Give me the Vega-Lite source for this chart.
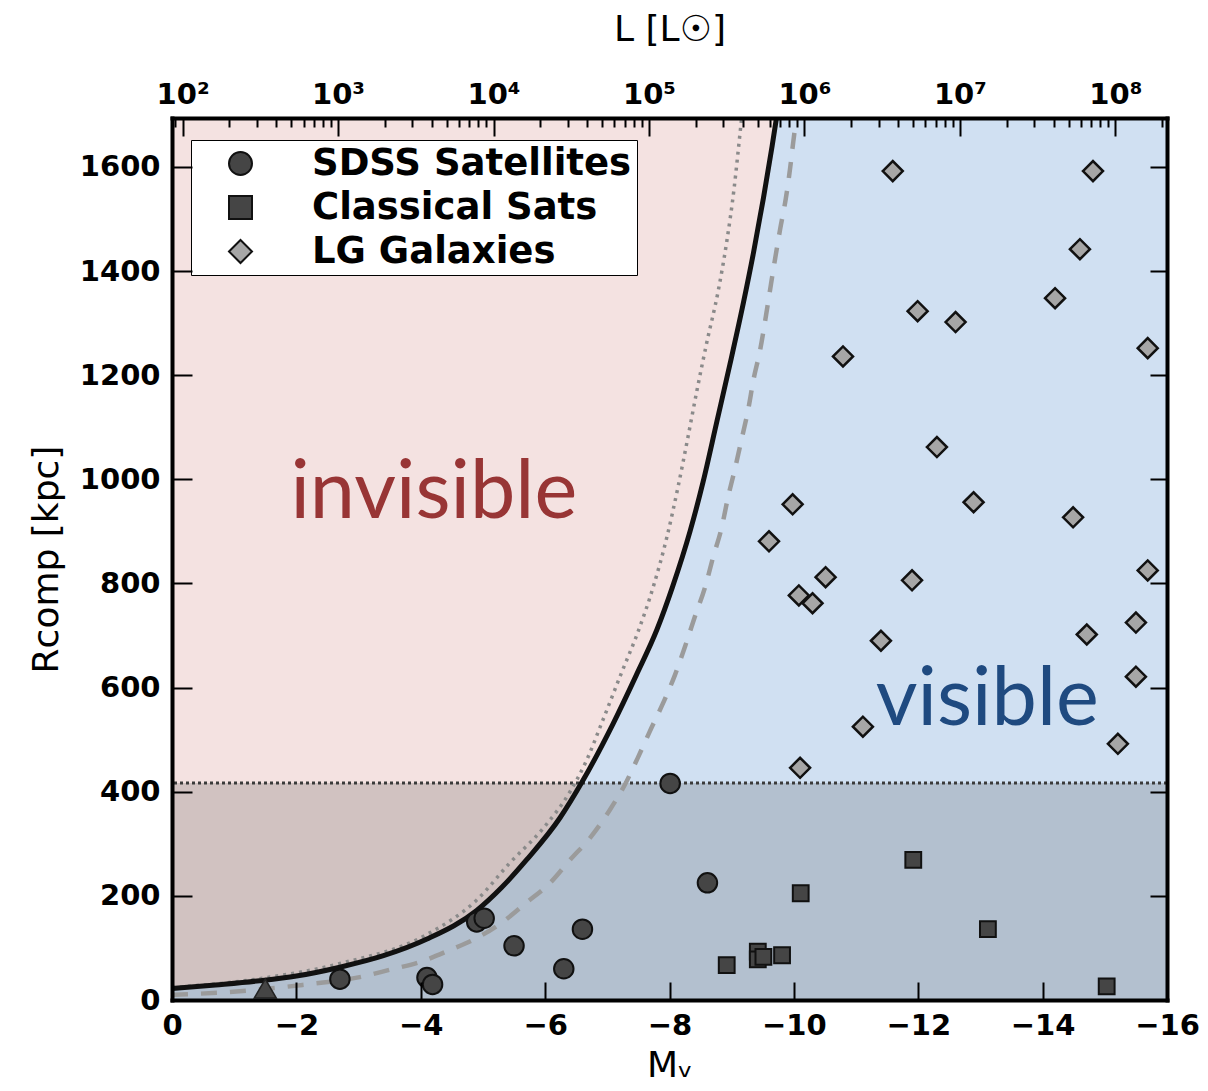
{
  "$schema": "https://vega.github.io/schema/vega-lite/v6.json",
  "width": 995,
  "height": 882,
  "autosize": {"type": "none"},
  "padding": {"left": 172, "top": 118, "right": 41, "bottom": 91},
  "background": "white",
  "config": {
    "font": "DejaVu Sans",
    "view": {"fill": "#d0e0f2", "stroke": null},
    "axis": {
      "grid": false, "zindex": 1, "ticks": true,
      "domainColor": "black", "domainWidth": 4, "domainCap": "square",
      "tickColor": "black", "tickWidth": 2,
      "labelColor": "black", "labelFont": "DejaVu Sans", "labelFontWeight": "bold", "labelFontSize": 29,
      "titleFont": "DejaVu Sans", "titleFontWeight": "normal", "titleFontSize": 36, "titleColor": "black",
      "labelFlush": false, "labelOverlap": false, "labelBound": false
    }
  },
  "datasets": {
    "curves": [
      {"curve": "solid", "M": 0, "R": 22}, {"curve": "solid", "M": -0.7, "R": 29}, {"curve": "solid", "M": -1.41, "R": 37},
      {"curve": "solid", "M": -2.0, "R": 46}, {"curve": "solid", "M": -2.7, "R": 63}, {"curve": "solid", "M": -3.4, "R": 85},
      {"curve": "solid", "M": -4.1, "R": 117}, {"curve": "solid", "M": -4.9, "R": 172}, {"curve": "solid", "M": -5.3, "R": 216},
      {"curve": "solid", "M": -5.7, "R": 269}, {"curve": "solid", "M": -6.24, "R": 350}, {"curve": "solid", "M": -6.6, "R": 420},
      {"curve": "solid", "M": -7.09, "R": 530}, {"curve": "solid", "M": -7.47, "R": 625}, {"curve": "solid", "M": -7.8, "R": 712},
      {"curve": "solid", "M": -8.05, "R": 794}, {"curve": "solid", "M": -8.33, "R": 900}, {"curve": "solid", "M": -8.54, "R": 995},
      {"curve": "solid", "M": -8.76, "R": 1110}, {"curve": "solid", "M": -8.97, "R": 1220}, {"curve": "solid", "M": -9.19, "R": 1340},
      {"curve": "solid", "M": -9.35, "R": 1435}, {"curve": "solid", "M": -9.51, "R": 1540}, {"curve": "solid", "M": -9.65, "R": 1640},
      {"curve": "solid", "M": -9.72, "R": 1694},
      {"curve": "dotted", "M": 0, "R": 24}, {"curve": "dotted", "M": -1.41, "R": 41}, {"curve": "dotted", "M": -2.7, "R": 70},
      {"curve": "dotted", "M": -4.1, "R": 126}, {"curve": "dotted", "M": -4.9, "R": 192}, {"curve": "dotted", "M": -5.43, "R": 263},
      {"curve": "dotted", "M": -5.97, "R": 330}, {"curve": "dotted", "M": -6.4, "R": 400}, {"curve": "dotted", "M": -6.65, "R": 456},
      {"curve": "dotted", "M": -6.93, "R": 538}, {"curve": "dotted", "M": -7.23, "R": 629}, {"curve": "dotted", "M": -7.49, "R": 706},
      {"curve": "dotted", "M": -7.74, "R": 794}, {"curve": "dotted", "M": -7.96, "R": 890}, {"curve": "dotted", "M": -8.14, "R": 987},
      {"curve": "dotted", "M": -8.3, "R": 1083}, {"curve": "dotted", "M": -8.44, "R": 1170}, {"curve": "dotted", "M": -8.6, "R": 1263},
      {"curve": "dotted", "M": -8.78, "R": 1360}, {"curve": "dotted", "M": -8.92, "R": 1456}, {"curve": "dotted", "M": -9.04, "R": 1560},
      {"curve": "dotted", "M": -9.13, "R": 1660}, {"curve": "dotted", "M": -9.16, "R": 1694},
      {"curve": "dashed", "M": 0, "R": 10}, {"curve": "dashed", "M": -0.88, "R": 15}, {"curve": "dashed", "M": -2.1, "R": 29},
      {"curve": "dashed", "M": -3.02, "R": 44}, {"curve": "dashed", "M": -3.5, "R": 58}, {"curve": "dashed", "M": -3.99, "R": 73},
      {"curve": "dashed", "M": -4.47, "R": 96}, {"curve": "dashed", "M": -4.9, "R": 119}, {"curve": "dashed", "M": -5.32, "R": 150},
      {"curve": "dashed", "M": -5.7, "R": 187}, {"curve": "dashed", "M": -6.08, "R": 225}, {"curve": "dashed", "M": -6.4, "R": 269},
      {"curve": "dashed", "M": -6.72, "R": 311}, {"curve": "dashed", "M": -7.04, "R": 365}, {"curve": "dashed", "M": -7.28, "R": 413},
      {"curve": "dashed", "M": -7.49, "R": 465}, {"curve": "dashed", "M": -7.68, "R": 515}, {"curve": "dashed", "M": -7.9, "R": 571},
      {"curve": "dashed", "M": -8.09, "R": 625}, {"curve": "dashed", "M": -8.25, "R": 679}, {"curve": "dashed", "M": -8.41, "R": 737},
      {"curve": "dashed", "M": -8.57, "R": 792}, {"curve": "dashed", "M": -8.7, "R": 850}, {"curve": "dashed", "M": -8.84, "R": 908},
      {"curve": "dashed", "M": -8.94, "R": 965}, {"curve": "dashed", "M": -9.05, "R": 1019}, {"curve": "dashed", "M": -9.16, "R": 1077},
      {"curve": "dashed", "M": -9.27, "R": 1137}, {"curve": "dashed", "M": -9.35, "R": 1191}, {"curve": "dashed", "M": -9.46, "R": 1250},
      {"curve": "dashed", "M": -9.54, "R": 1306}, {"curve": "dashed", "M": -9.62, "R": 1366}, {"curve": "dashed", "M": -9.7, "R": 1425},
      {"curve": "dashed", "M": -9.78, "R": 1481}, {"curve": "dashed", "M": -9.87, "R": 1539}, {"curve": "dashed", "M": -9.94, "R": 1598},
      {"curve": "dashed", "M": -9.99, "R": 1648}, {"curve": "dashed", "M": -10.04, "R": 1694}
    ],
    "points": [
      {"type": "SDSS Satellites", "M": -2.70, "R": 40}, {"type": "SDSS Satellites", "M": -4.10, "R": 43},
      {"type": "SDSS Satellites", "M": -4.19, "R": 30}, {"type": "SDSS Satellites", "M": -4.90, "R": 150},
      {"type": "SDSS Satellites", "M": -5.02, "R": 157}, {"type": "SDSS Satellites", "M": -5.50, "R": 104},
      {"type": "SDSS Satellites", "M": -6.30, "R": 60}, {"type": "SDSS Satellites", "M": -6.60, "R": 136},
      {"type": "SDSS Satellites", "M": -8.01, "R": 416}, {"type": "SDSS Satellites", "M": -8.61, "R": 225},
      {"type": "Classical Sats", "M": -8.92, "R": 67}, {"type": "Classical Sats", "M": -9.42, "R": 93},
      {"type": "Classical Sats", "M": -9.42, "R": 78}, {"type": "Classical Sats", "M": -9.51, "R": 83},
      {"type": "Classical Sats", "M": -9.81, "R": 86}, {"type": "Classical Sats", "M": -10.11, "R": 205},
      {"type": "Classical Sats", "M": -11.92, "R": 269}, {"type": "Classical Sats", "M": -13.12, "R": 136},
      {"type": "Classical Sats", "M": -15.03, "R": 26},
      {"type": "LG Galaxies", "M": -11.59, "R": 1592}, {"type": "LG Galaxies", "M": -14.81, "R": 1592},
      {"type": "LG Galaxies", "M": -14.6, "R": 1442}, {"type": "LG Galaxies", "M": -14.2, "R": 1348},
      {"type": "LG Galaxies", "M": -11.99, "R": 1323}, {"type": "LG Galaxies", "M": -12.6, "R": 1302},
      {"type": "LG Galaxies", "M": -10.79, "R": 1236}, {"type": "LG Galaxies", "M": -15.69, "R": 1252},
      {"type": "LG Galaxies", "M": -12.3, "R": 1062}, {"type": "LG Galaxies", "M": -9.98, "R": 952},
      {"type": "LG Galaxies", "M": -12.89, "R": 956}, {"type": "LG Galaxies", "M": -14.49, "R": 927},
      {"type": "LG Galaxies", "M": -9.6, "R": 881}, {"type": "LG Galaxies", "M": -10.51, "R": 812},
      {"type": "LG Galaxies", "M": -11.9, "R": 806}, {"type": "LG Galaxies", "M": -15.69, "R": 825},
      {"type": "LG Galaxies", "M": -10.08, "R": 777}, {"type": "LG Galaxies", "M": -10.3, "R": 762},
      {"type": "LG Galaxies", "M": -11.4, "R": 690}, {"type": "LG Galaxies", "M": -14.71, "R": 702},
      {"type": "LG Galaxies", "M": -15.5, "R": 725}, {"type": "LG Galaxies", "M": -15.5, "R": 621},
      {"type": "LG Galaxies", "M": -11.11, "R": 525}, {"type": "LG Galaxies", "M": -15.21, "R": 492},
      {"type": "LG Galaxies", "M": -10.1, "R": 446},
      {"type": "other", "M": -1.5, "R": 22}
    ],
    "labels": [
      {"label": "invisible", "M": -4.21, "R": 926},
      {"label": "visible", "M": -13.11, "R": 528}
    ],
    "limit": [{"R": 417}],
    "Lrange": [{"L": 85.5, "R": 0}, {"L": 214800000, "R": 1694}]
  },
  "layer": [
    {
      "data": {"name": "curves"},
      "transform": [{"filter": "datum.curve === 'solid'"}],
      "mark": {"type": "area", "orient": "horizontal", "color": "#f4e2e1", "interpolate": "monotone"},
      "encoding": {
        "y": {"field": "R", "type": "quantitative",
              "scale": {"domain": [0, 1694], "nice": false, "zero": false},
              "axis": {"orient": "left", "values": [0, 200, 400, 600, 800, 1000, 1200, 1400, 1600], "format": "d",
                       "zindex": 2, "tickSize": -20, "labelPadding": 32, "title": "Rcomp [kpc]", "titlePadding": 14}},
        "x": {"field": "M", "type": "quantitative",
              "scale": {"domain": [0, -16], "nice": false, "zero": false},
              "axis": {"orient": "bottom", "values": [0, -2, -4, -6, -8, -10, -12, -14, -16], "format": "d",
                       "zindex": 2, "tickSize": -18, "labelPadding": 29, "title": "Mᵥ", "titlePadding": 8}},
        "x2": {"datum": 0}
      }
    },
    {
      "data": {"name": "limit"},
      "mark": {"type": "rect", "color": "#222222", "opacity": 0.17},
      "encoding": {
        "x": {"datum": 0, "type": "quantitative", "scale": {"domain": [0, -16], "nice": false, "zero": false}, "axis": null},
        "x2": {"datum": -16},
        "y": {"field": "R", "type": "quantitative", "axis": null},
        "y2": {"datum": 0}
      }
    },
    {
      "data": {"name": "limit"},
      "mark": {"type": "rule", "color": "#3a3a3a", "strokeWidth": 3, "strokeDash": [3, 3]},
      "encoding": {"y": {"field": "R", "type": "quantitative", "axis": null}}
    },
    {
      "data": {"name": "curves"},
      "transform": [{"filter": "datum.curve === 'dotted'"}],
      "mark": {"type": "line", "color": "#8a8a8a", "strokeWidth": 3.5, "strokeDash": [3, 5], "interpolate": "monotone"},
      "encoding": {
        "x": {"field": "M", "type": "quantitative", "scale": {"domain": [0, -16], "nice": false, "zero": false}, "axis": null},
        "y": {"field": "R", "type": "quantitative", "axis": null},
        "order": {"field": "R", "type": "quantitative"}
      }
    },
    {
      "data": {"name": "curves"},
      "transform": [{"filter": "datum.curve === 'dashed'"}],
      "mark": {"type": "line", "color": "#9b9b9b", "strokeWidth": 4.5, "strokeDash": [16, 13], "interpolate": "monotone"},
      "encoding": {
        "x": {"field": "M", "type": "quantitative", "scale": {"domain": [0, -16], "nice": false, "zero": false}, "axis": null},
        "y": {"field": "R", "type": "quantitative", "axis": null},
        "order": {"field": "R", "type": "quantitative"}
      }
    },
    {
      "data": {"name": "curves"},
      "transform": [{"filter": "datum.curve === 'solid'"}],
      "mark": {"type": "line", "color": "#111111", "strokeWidth": 5, "interpolate": "monotone"},
      "encoding": {
        "x": {"field": "M", "type": "quantitative", "scale": {"domain": [0, -16], "nice": false, "zero": false}, "axis": null},
        "y": {"field": "R", "type": "quantitative", "axis": null},
        "order": {"field": "R", "type": "quantitative"}
      }
    },
    {
      "data": {"name": "points"},
      "transform": [{"filter": "datum.type === 'other'"}],
      "mark": {"type": "point", "shape": "triangle-up", "filled": true, "size": 484, "color": "#454545", "stroke": "#222222", "strokeWidth": 1.5, "opacity": 1},
      "encoding": {
        "x": {"field": "M", "type": "quantitative", "scale": {"domain": [0, -16], "nice": false, "zero": false}, "axis": null},
        "y": {"field": "R", "type": "quantitative", "axis": null}
      }
    },
    {
      "data": {"name": "points"},
      "transform": [{"filter": "datum.type === 'LG Galaxies'"}],
      "mark": {"type": "point", "filled": true, "size": 400, "stroke": "#111111", "strokeWidth": 2.5, "opacity": 1},
      "encoding": {
        "x": {"field": "M", "type": "quantitative", "scale": {"domain": [0, -16], "nice": false, "zero": false}, "axis": null},
        "y": {"field": "R", "type": "quantitative", "axis": null},
        "shape": {"field": "type", "type": "nominal", "title": null,
                  "scale": {"domain": ["SDSS Satellites", "Classical Sats", "LG Galaxies"], "range": ["circle", "square", "diamond"]}},
        "fill": {"field": "type", "type": "nominal", "title": null,
                 "scale": {"domain": ["SDSS Satellites", "Classical Sats", "LG Galaxies"], "range": ["#454545", "#454545", "#a6a6a6"]}}
      }
    },
    {
      "data": {"name": "points"},
      "transform": [{"filter": "datum.type === 'Classical Sats'"}],
      "mark": {"type": "point", "filled": true, "size": 250, "stroke": "#111111", "strokeWidth": 2, "opacity": 1},
      "encoding": {
        "x": {"field": "M", "type": "quantitative", "scale": {"domain": [0, -16], "nice": false, "zero": false}, "axis": null},
        "y": {"field": "R", "type": "quantitative", "axis": null},
        "shape": {"field": "type", "type": "nominal", "title": null},
        "fill": {"field": "type", "type": "nominal", "title": null}
      }
    },
    {
      "data": {"name": "points"},
      "transform": [{"filter": "datum.type === 'SDSS Satellites'"}],
      "mark": {"type": "point", "filled": true, "size": 380, "stroke": "#111111", "strokeWidth": 2, "opacity": 1},
      "encoding": {
        "x": {"field": "M", "type": "quantitative", "scale": {"domain": [0, -16], "nice": false, "zero": false}, "axis": null},
        "y": {"field": "R", "type": "quantitative", "axis": null},
        "shape": {"field": "type", "type": "nominal", "title": null,
                  "legend": {
                    "orient": "none", "legendX": 19, "legendY": 22,
                    "fillColor": "white", "strokeColor": "black",
                    "padding": 5, "rowPadding": 6, "symbolOffset": 26, "labelOffset": 53,
                    "labelFont": "DejaVu Sans", "labelFontWeight": "bold", "labelFontSize": 37, "labelColor": "black",
                    "labelLimit": 1000,
                    "symbolSize": 529, "symbolStrokeColor": "black", "symbolStrokeWidth": 2, "symbolOpacity": 1
                  }},
        "fill": {"field": "type", "type": "nominal", "title": null}
      }
    },
    {
      "data": {"name": "labels"},
      "mark": {"type": "text", "font": "Lato", "fontSize": 81, "align": "center", "baseline": "alphabetic"},
      "encoding": {
        "x": {"field": "M", "type": "quantitative", "scale": {"domain": [0, -16], "nice": false, "zero": false}, "axis": null},
        "y": {"field": "R", "type": "quantitative", "axis": null},
        "text": {"field": "label", "type": "nominal"},
        "color": {"field": "label", "type": "nominal", "legend": null,
                  "scale": {"domain": ["invisible", "visible"], "range": ["#983535", "#1f4a80"]}}
      }
    },
    {
      "data": {"name": "Lrange"},
      "mark": {"type": "point", "opacity": 0},
      "encoding": {
        "x": {"field": "L", "type": "quantitative",
              "scale": {"type": "log", "domain": [85.5, 214800000], "nice": false, "zero": false},
              "axis": {"orient": "top", "zindex": 2,
                       "values": [90, 200, 300, 400, 500, 600, 700, 800, 900,
                                  2000, 3000, 4000, 5000, 6000, 7000, 8000, 9000,
                                  20000, 30000, 40000, 50000, 60000, 70000, 80000, 90000,
                                  200000, 300000, 400000, 500000, 600000, 700000, 800000, 900000,
                                  2000000, 3000000, 4000000, 5000000, 6000000, 7000000, 8000000, 9000000,
                                  20000000, 30000000, 40000000, 50000000, 60000000, 70000000, 80000000, 90000000,
                                  200000000],
                       "labels": false, "domain": false, "tickSize": -9, "title": null}},
        "y": {"field": "R", "type": "quantitative", "axis": null}
      }
    },
    {
      "data": {"name": "Lrange"},
      "mark": {"type": "point", "opacity": 0},
      "encoding": {
        "x": {"field": "L", "type": "quantitative",
              "scale": {"type": "log", "domain": [85.5, 214800000], "nice": false, "zero": false},
              "axis": {"orient": "top", "zindex": 2,
                       "values": [100, 1000, 10000, 100000, 1000000, 10000000, 100000000],
                       "labelExpr": "'10' + ['⁰','¹','²','³','⁴','⁵','⁶','⁷','⁸','⁹'][round(log(datum.value)/LN10)]",
                       "tickSize": -18, "labelPadding": 27, "title": "L [L☉]", "titlePadding": 32}},
        "y": {"field": "R", "type": "quantitative",
              "axis": {"orient": "right", "zindex": 2, "values": [0, 200, 400, 600, 800, 1000, 1200, 1400, 1600],
                       "tickSize": -17, "labels": false, "title": null}}
      }
    }
  ],
  "resolve": {"scale": {"x": "independent"}, "axis": {"x": "independent", "y": "independent"}}
}
